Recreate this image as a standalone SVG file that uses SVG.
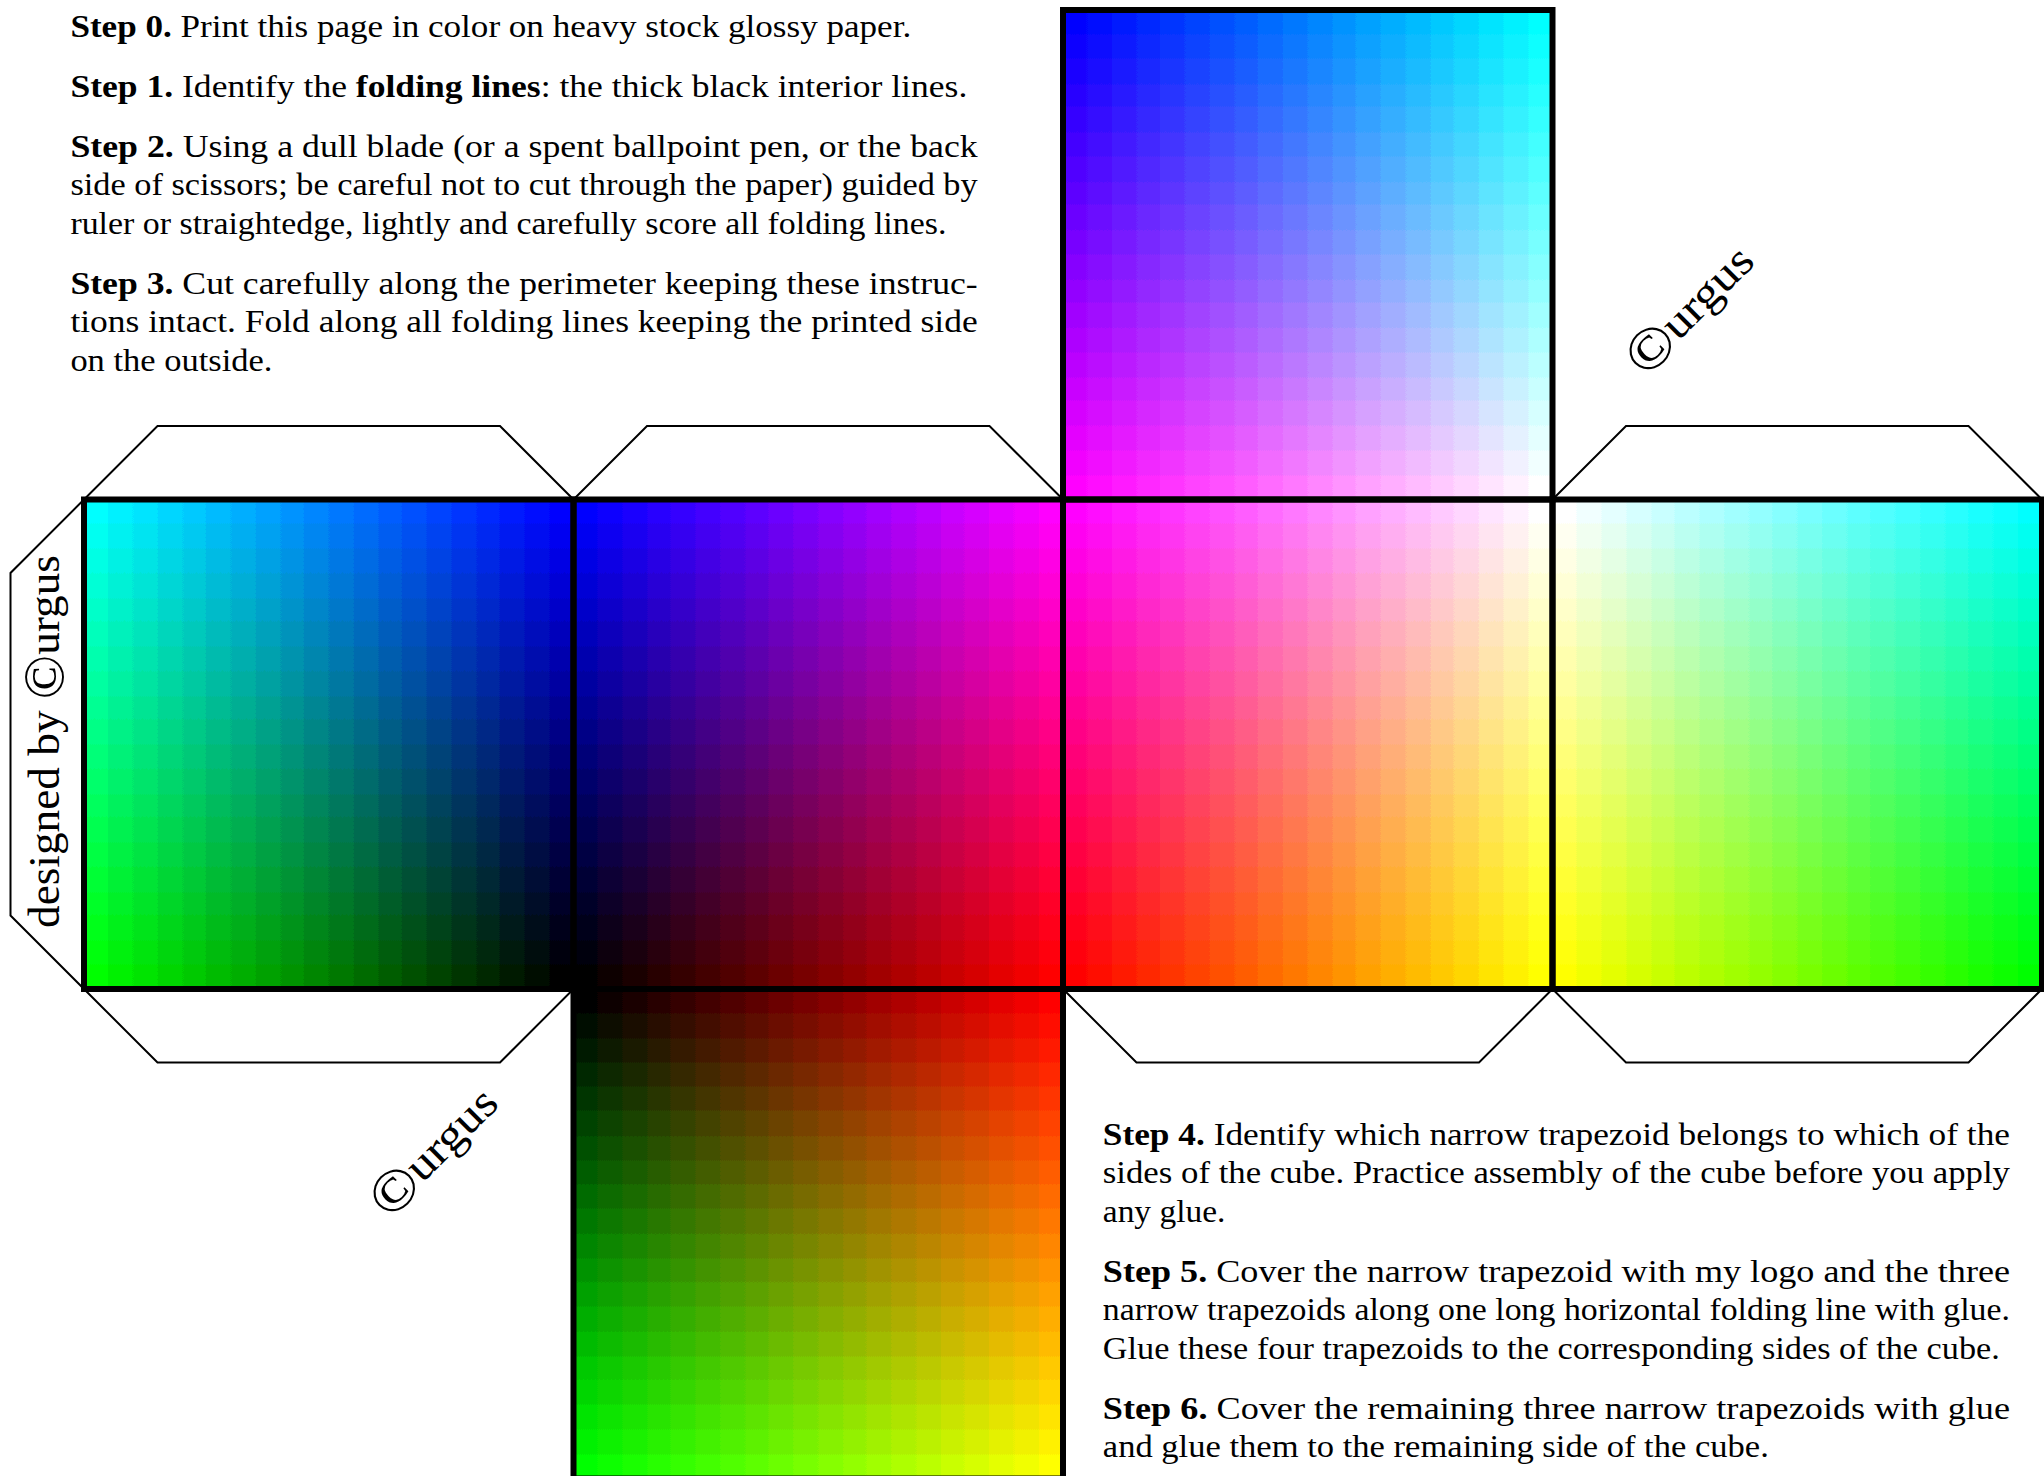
<svg xmlns="http://www.w3.org/2000/svg" width="2044" height="1476" viewBox="0 0 2044 1476">
<style>
.fold{fill:none;stroke:#000;stroke-width:6;stroke-linejoin:miter}
.tab{fill:none;stroke:#000;stroke-width:2;stroke-linejoin:miter}
.t{font-family:"Liberation Serif","Times New Roman",serif;font-size:32px;fill:#000}
.b{font-weight:bold}
.sig{font-family:"Liberation Serif","Times New Roman",serif;font-size:45px;fill:#000}
.c{font-size:58px}
.scr{mix-blend-mode:screen}
</style>
<defs>
<filter id="q" x="0" y="0" width="1" height="1" color-interpolation-filters="sRGB">
<feComponentTransfer>
<feFuncR type="discrete" tableValues="0 0.0526 0.1053 0.1579 0.2105 0.2632 0.3158 0.3684 0.4211 0.4737 0.5263 0.5789 0.6316 0.6842 0.7368 0.7895 0.8421 0.8947 0.9474 1"/>
<feFuncG type="discrete" tableValues="0 0.0526 0.1053 0.1579 0.2105 0.2632 0.3158 0.3684 0.4211 0.4737 0.5263 0.5789 0.6316 0.6842 0.7368 0.7895 0.8421 0.8947 0.9474 1"/>
<feFuncB type="discrete" tableValues="0 0.0526 0.1053 0.1579 0.2105 0.2632 0.3158 0.3684 0.4211 0.4737 0.5263 0.5789 0.6316 0.6842 0.7368 0.7895 0.8421 0.8947 0.9474 1"/>
</feComponentTransfer>
</filter>
<linearGradient id="hGd" x1="0" y1="0" x2="1" y2="0"><stop offset="0" stop-color="#00ff00"/><stop offset="1" stop-color="#000000"/></linearGradient>
<linearGradient id="hGi" x1="0" y1="0" x2="1" y2="0"><stop offset="0" stop-color="#000000"/><stop offset="1" stop-color="#00ff00"/></linearGradient>
<linearGradient id="hRi" x1="0" y1="0" x2="1" y2="0"><stop offset="0" stop-color="#000000"/><stop offset="1" stop-color="#ff0000"/></linearGradient>
<linearGradient id="hRd" x1="0" y1="0" x2="1" y2="0"><stop offset="0" stop-color="#ff0000"/><stop offset="1" stop-color="#000000"/></linearGradient>
<linearGradient id="vBd" x1="0" y1="0" x2="0" y2="1"><stop offset="0" stop-color="#0000ff"/><stop offset="1" stop-color="#000000"/></linearGradient>
<linearGradient id="vRi" x1="0" y1="0" x2="0" y2="1"><stop offset="0" stop-color="#000000"/><stop offset="1" stop-color="#ff0000"/></linearGradient>
<linearGradient id="vGi" x1="0" y1="0" x2="0" y2="1"><stop offset="0" stop-color="#000000"/><stop offset="1" stop-color="#00ff00"/></linearGradient>
</defs>
<rect width="2044" height="1476" fill="#fff"/>

<g id="faces">
<g id="face-left" filter="url(#q)">
<rect x="84" y="499.5" width="489.5" height="489.5" fill="#000"/>
<rect class="scr" x="84" y="499.5" width="489.5" height="489.5" fill="url(#hGd)"/>
<rect class="scr" x="84" y="499.5" width="489.5" height="489.5" fill="url(#vBd)"/>
</g>
<g id="face-front" filter="url(#q)">
<rect x="573.5" y="499.5" width="489.5" height="489.5" fill="#000"/>
<rect class="scr" x="573.5" y="499.5" width="489.5" height="489.5" fill="url(#hRi)"/>
<rect class="scr" x="573.5" y="499.5" width="489.5" height="489.5" fill="url(#vBd)"/>
</g>
<g id="face-right" filter="url(#q)">
<rect x="1063" y="499.5" width="489.5" height="489.5" fill="#f00"/>
<rect class="scr" x="1063" y="499.5" width="489.5" height="489.5" fill="url(#hGi)"/>
<rect class="scr" x="1063" y="499.5" width="489.5" height="489.5" fill="url(#vBd)"/>
</g>
<g id="face-back" filter="url(#q)">
<rect x="1552.5" y="499.5" width="489.5" height="489.5" fill="#0f0"/>
<rect class="scr" x="1552.5" y="499.5" width="489.5" height="489.5" fill="url(#hRd)"/>
<rect class="scr" x="1552.5" y="499.5" width="489.5" height="489.5" fill="url(#vBd)"/>
</g>
<g id="face-top" filter="url(#q)">
<rect x="1063" y="10" width="489.5" height="489.5" fill="#00f"/>
<rect class="scr" x="1063" y="10" width="489.5" height="489.5" fill="url(#hGi)"/>
<rect class="scr" x="1063" y="10" width="489.5" height="489.5" fill="url(#vRi)"/>
</g>
<g id="face-bottom" filter="url(#q)">
<rect x="573.5" y="989" width="489.5" height="489.5" fill="#000"/>
<rect class="scr" x="573.5" y="989" width="489.5" height="489.5" fill="url(#hRi)"/>
<rect class="scr" x="573.5" y="989" width="489.5" height="489.5" fill="url(#vGi)"/>
</g>
</g>

<g id="tabs">
<polyline id="tab-left-top" class="tab" points="84,499.5 157.5,426 500,426 573.5,499.5"/>
<polyline id="tab-front-top" class="tab" points="573.5,499.5 647,426 989.5,426 1063,499.5"/>
<polyline id="tab-back-top" class="tab" points="1552.5,499.5 1626,426 1968.5,426 2042,499.5"/>
<polyline id="tab-left-bottom" class="tab" points="84,989 157.5,1062.5 500,1062.5 573.5,989"/>
<polyline id="tab-right-bottom" class="tab" points="1063,989 1136.5,1062.5 1479,1062.5 1552.5,989"/>
<polyline id="tab-back-bottom" class="tab" points="1552.5,989 1626,1062.5 1968.5,1062.5 2042,989"/>
<polyline id="tab-left-side" class="tab" points="84,499.5 10.5,573 10.5,915.5 84,989"/>
</g>

<g id="folding-lines">
<rect class="fold" x="84" y="499.5" width="489.5" height="489.5"/>
<rect class="fold" x="573.5" y="499.5" width="489.5" height="489.5"/>
<rect class="fold" x="1063" y="499.5" width="489.5" height="489.5"/>
<rect class="fold" x="1552.5" y="499.5" width="489.5" height="489.5"/>
<rect class="fold" x="1063" y="10" width="489.5" height="489.5"/>
<rect class="fold" x="573.5" y="989" width="489.5" height="489.5"/>
</g>

<g id="instructions-top" class="t">
<text x="70.4" y="36.5" textLength="840.8" lengthAdjust="spacingAndGlyphs"><tspan class="b">Step 0.</tspan> Print this page in color on heavy stock glossy paper.</text>
<text x="70.4" y="96.5" textLength="896.9" lengthAdjust="spacingAndGlyphs"><tspan class="b">Step 1.</tspan> Identify the <tspan class="b">folding lines</tspan>: the thick black interior lines.</text>
<text x="70.4" y="156.5" textLength="907.3" lengthAdjust="spacingAndGlyphs"><tspan class="b">Step 2.</tspan> Using a dull blade (or a spent ballpoint pen, or the back</text>
<text x="70.4" y="195" textLength="907.3" lengthAdjust="spacingAndGlyphs">side of scissors; be careful not to cut through the paper) guided by</text>
<text x="70.4" y="233.5" textLength="876" lengthAdjust="spacingAndGlyphs">ruler or straightedge, lightly and carefully score all folding lines.</text>
<text x="70.4" y="293.5" textLength="907.3" lengthAdjust="spacingAndGlyphs"><tspan class="b">Step 3.</tspan> Cut carefully along the perimeter keeping these instruc-</text>
<text x="70.4" y="332" textLength="907.3" lengthAdjust="spacingAndGlyphs">tions intact. Fold along all folding lines keeping the printed side</text>
<text x="70.4" y="370.5" textLength="202" lengthAdjust="spacingAndGlyphs">on the outside.</text>
</g>

<g id="instructions-bottom" class="t">
<text x="1102.8" y="1144.6" textLength="907.2" lengthAdjust="spacingAndGlyphs"><tspan class="b">Step 4.</tspan> Identify which narrow trapezoid belongs to which of the</text>
<text x="1102.8" y="1183" textLength="907.2" lengthAdjust="spacingAndGlyphs">sides of the cube. Practice assembly of the cube before you apply</text>
<text x="1102.8" y="1221.5" textLength="122.6" lengthAdjust="spacingAndGlyphs">any glue.</text>
<text x="1102.8" y="1281.5" textLength="907.2" lengthAdjust="spacingAndGlyphs"><tspan class="b">Step 5.</tspan> Cover the narrow trapezoid with my logo and the three</text>
<text x="1102.8" y="1320" textLength="907.2" lengthAdjust="spacingAndGlyphs">narrow trapezoids along one long horizontal folding line with glue.</text>
<text x="1102.8" y="1358.5" textLength="897" lengthAdjust="spacingAndGlyphs">Glue these four trapezoids to the corresponding sides of the cube.</text>
<text x="1102.8" y="1418.5" textLength="907.2" lengthAdjust="spacingAndGlyphs"><tspan class="b">Step 6.</tspan> Cover the remaining three narrow trapezoids with glue</text>
<text x="1102.8" y="1457" textLength="666" lengthAdjust="spacingAndGlyphs">and glue them to the remaining side of the cube.</text>
</g>

<g id="signatures" class="sig">
<text transform="translate(59.3,928) rotate(-90)" x="0" y="0" textLength="373" lengthAdjust="spacingAndGlyphs">designed by <tspan class="c" dy="4">©</tspan><tspan dy="-4">urgus</tspan></text>
<text transform="translate(1690,310) rotate(-45)" x="0" y="14" text-anchor="middle" textLength="160" lengthAdjust="spacingAndGlyphs"><tspan class="c" dy="4">©</tspan><tspan dy="-4">urgus</tspan></text>
<text transform="translate(434,1152) rotate(-45)" x="0" y="14" text-anchor="middle" textLength="160" lengthAdjust="spacingAndGlyphs"><tspan class="c" dy="4">©</tspan><tspan dy="-4">urgus</tspan></text>
</g>
</svg>
